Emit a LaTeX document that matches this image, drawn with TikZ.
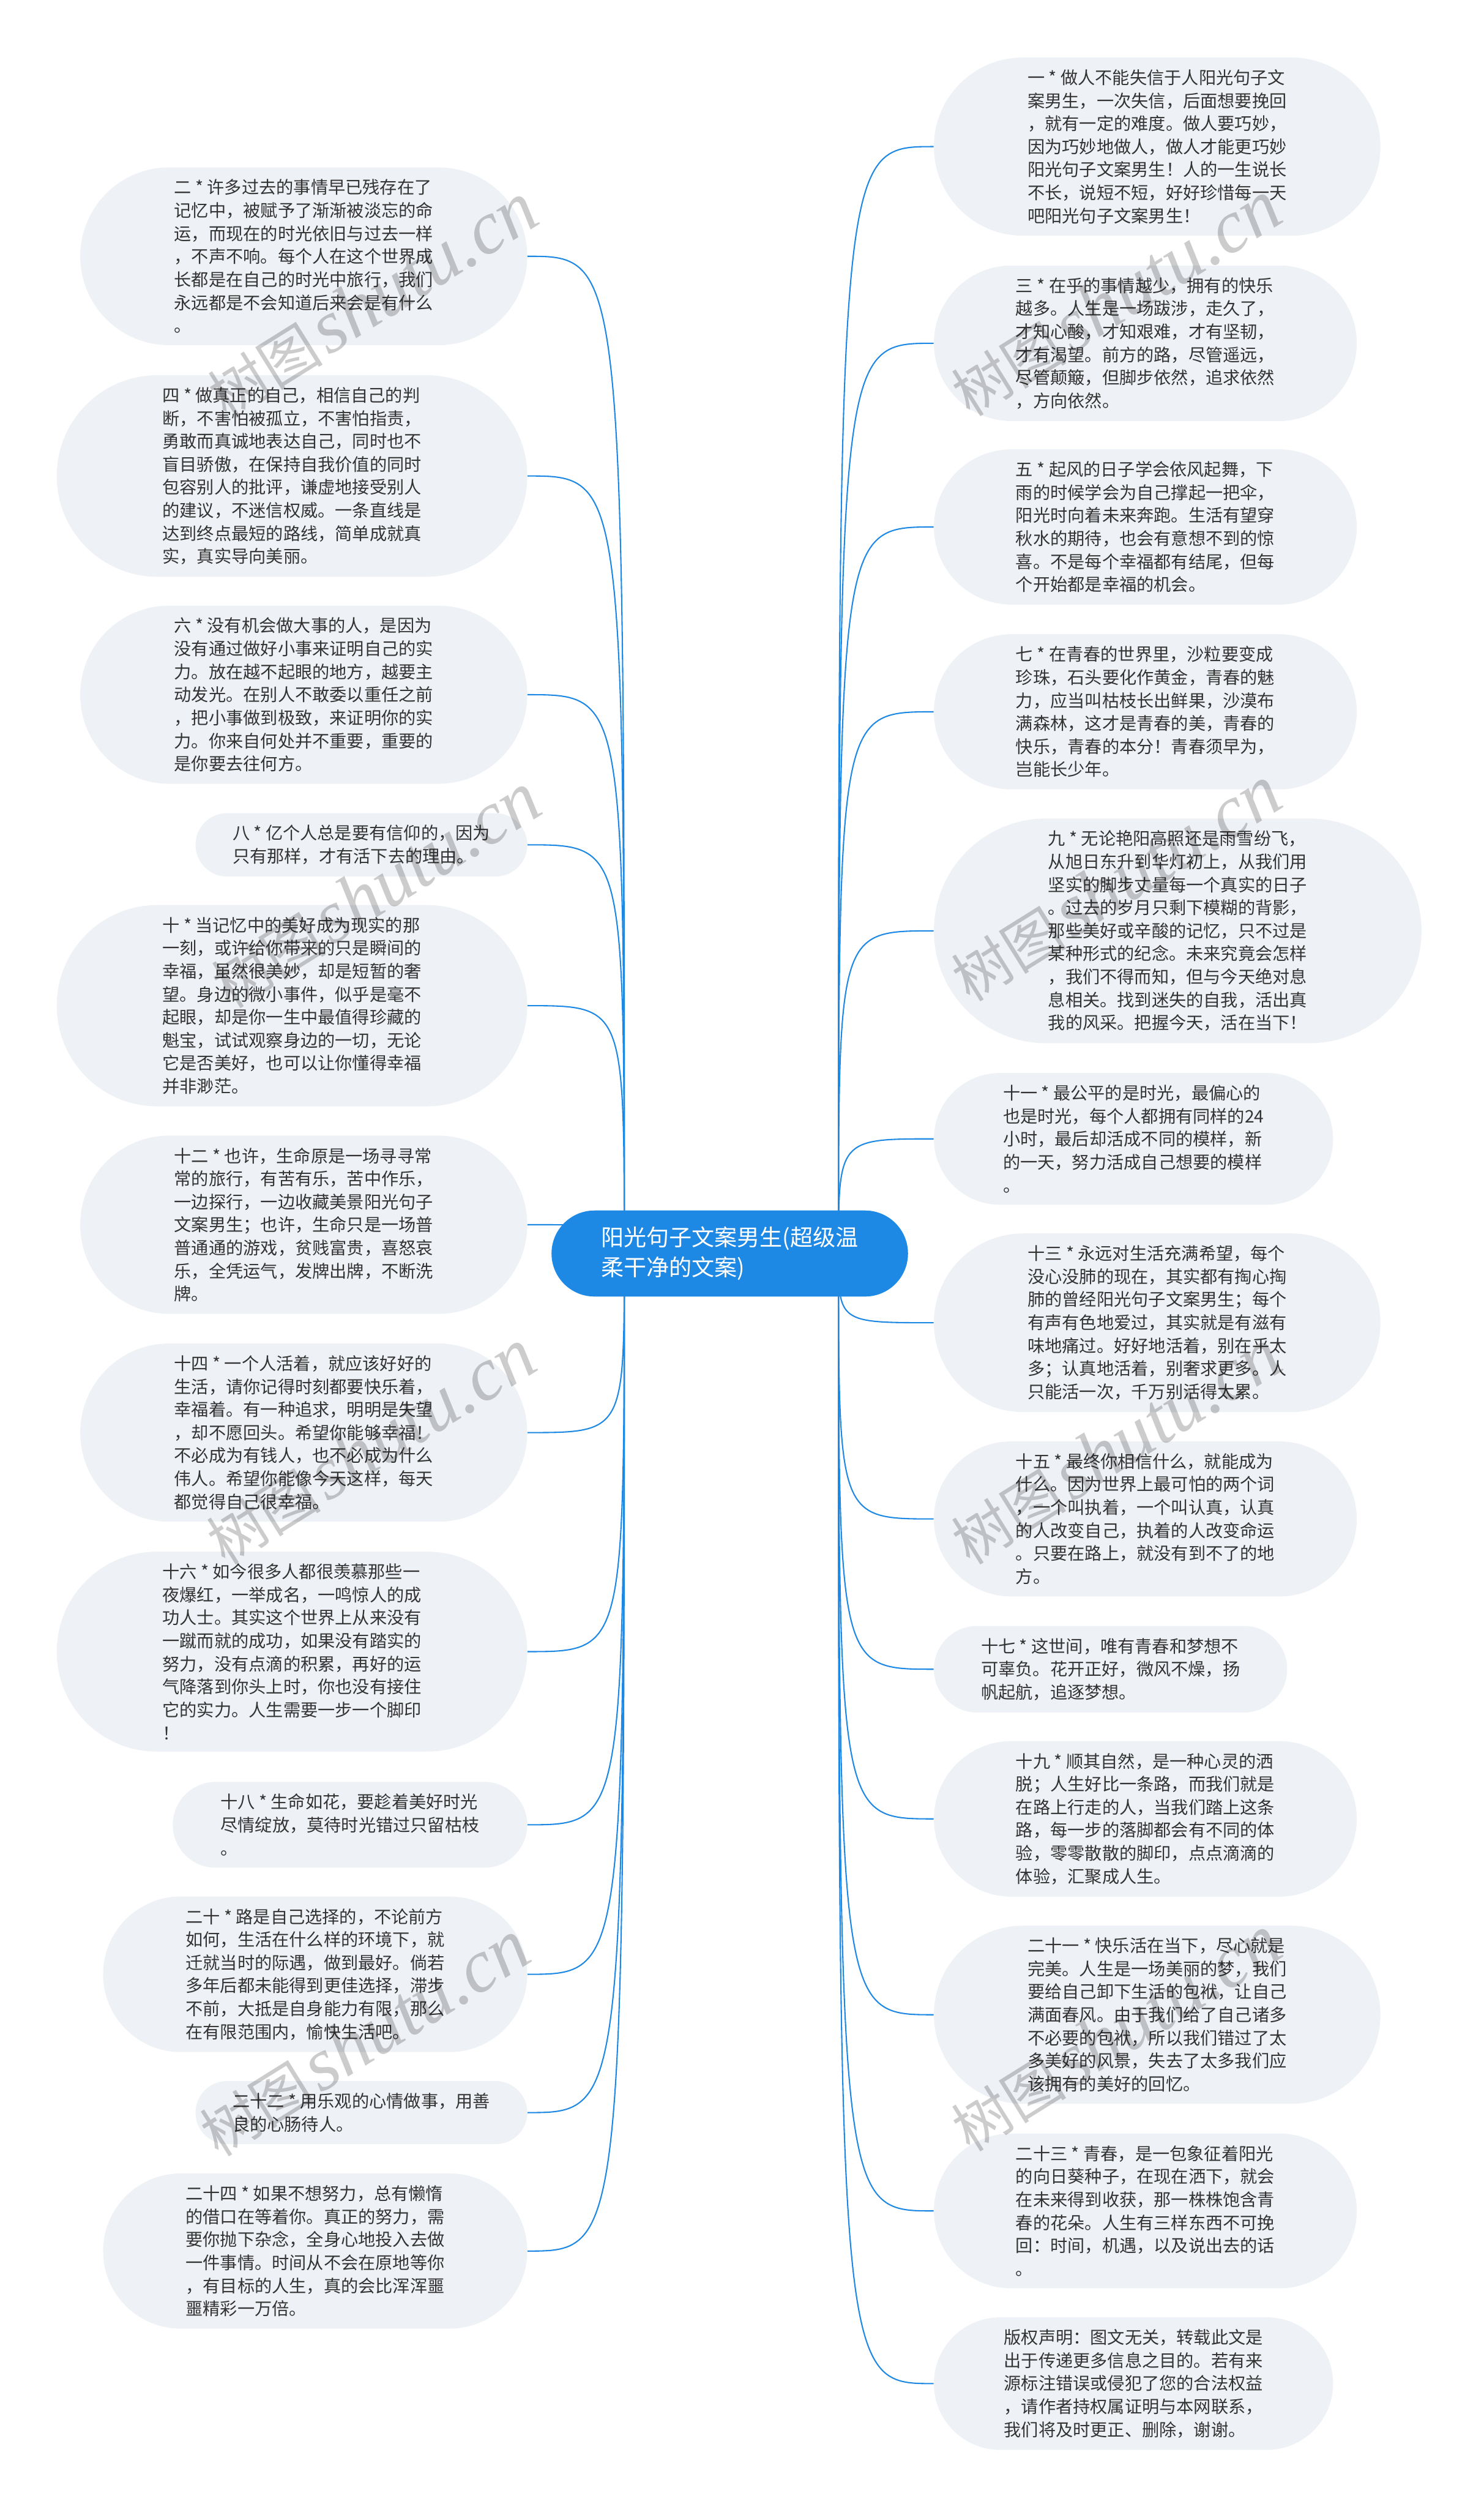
\documentclass[tikz,border=0pt]{standalone}
\usepackage{fontspec}
\newfontfamily\cjk{Noto Sans CJK SC}
\newfontfamily\wmfont{Liberation Serif}
\usetikzlibrary{shapes.misc,backgrounds,calc}
\definecolor{linkblue}{HTML}{1E88E5}
\definecolor{rootblue}{HTML}{1E88E5}
\definecolor{leafgray}{HTML}{EEF1F6}
\definecolor{textgray}{HTML}{333333}
\tikzset{
  leaf/.style={rounded rectangle, fill=leafgray, inner xsep=3pt, inner ysep=7.5pt,
    align=left, text=textgray, font=\cjk\fontsize{10.8}{14.4}\selectfont},
  rootbox/.style={rounded rectangle, fill=rootblue, inner xsep=3pt, inner ysep=10pt,
    minimum width=229, align=left, text=white, font=\cjk\fontsize{14.2}{19}\selectfont},
  link/.style={draw=linkblue, line width=0.8pt},
  wmark/.style={rotate=32, text=black, text opacity=0.2, inner sep=0pt}
}
\begin{document}
\begin{tikzpicture}[x=1pt,y=1pt,yscale=-1,xscale=1]
\useasboundingbox (0,0) rectangle (928,1568);
\begin{pgfonlayer}{background}
\fill[white] (0,0) rectangle (928,1568);
\end{pgfonlayer}

% Root
\node[rootbox] (root) at (456.5,784) {阳光句子文案男生(超级温\\柔干净的文案)};
\coordinate (ls) at ($(root.center)+(-66,0)$);
\coordinate (rs) at ($(root.center)+(68,0)$);

% Left side
\node[leaf, minimum width=285.6, anchor=east] (l1) at (330,160.3) {二 * 许多过去的事情早已残存在了\\记忆中，被赋予了渐渐被淡忘的命\\运，而现在的时光依旧与过去一样\\，不声不响。每个人在这个世界成\\长都是在自己的时光中旅行，我们\\永远都是不会知道后来会是有什么\\。};
\node[leaf, minimum width=300.3, anchor=east] (l2) at (330,297.7) {四 * 做真正的自己，相信自己的判\\断，不害怕被孤立，不害怕指责，\\勇敢而真诚地表达自己，同时也不\\盲目骄傲，在保持自我价值的同时\\包容别人的批评，谦虚地接受别人\\的建议，不迷信权威。一条直线是\\达到终点最短的路线，简单成就真\\实，真实导向美丽。};
\node[leaf, minimum width=285.6, anchor=east] (l3) at (330,434.5) {六 * 没有机会做大事的人，是因为\\没有通过做好小事来证明自己的实\\力。放在越不起眼的地方，越要主\\动发光。在别人不敢委以重任之前\\，把小事做到极致，来证明你的实\\力。你来自何处并不重要，重要的\\是你要去往何方。};
\node[leaf, minimum width=213.5, anchor=east] (l4) at (330,528.4) {八 * 亿个人总是要有信仰的，因为\\只有那样，才有活下去的理由。};
\node[leaf, minimum width=300.3, anchor=east] (l5) at (330,629) {十 * 当记忆中的美好成为现实的那\\一刻，或许给你带来的只是瞬间的\\幸福，虽然很美妙，却是短暂的奢\\望。身边的微小事件，似乎是毫不\\起眼，却是你一生中最值得珍藏的\\魁宝，试试观察身边的一切，无论\\它是否美好，也可以让你懂得幸福\\并非渺茫。};
\node[leaf, minimum width=285.6, anchor=east] (l6) at (330,766) {十二 * 也许，生命原是一场寻寻常\\常的旅行，有苦有乐，苦中作乐，\\一边探行，一边收藏美景阳光句子\\文案男生；也许，生命只是一场普\\普通通的游戏，贫贱富贵，喜怒哀\\乐，全凭运气，发牌出牌，不断洗\\牌。};
\node[leaf, minimum width=285.6, anchor=east] (l7) at (330,896) {十四 * 一个人活着，就应该好好的\\生活，请你记得时刻都要快乐着，\\幸福着。有一种追求，明明是失望\\，却不愿回头。希望你能够幸福！\\不必成为有钱人，也不必成为什么\\伟人。希望你能像今天这样，每天\\都觉得自己很幸福。};
\node[leaf, minimum width=300.3, anchor=east] (l8) at (330,1033) {十六 * 如今很多人都很羡慕那些一\\夜爆红，一举成名，一鸣惊人的成\\功人士。其实这个世界上从来没有\\一蹴而就的成功，如果没有踏实的\\努力，没有点滴的积累，再好的运\\气降落到你头上时，你也没有接住\\它的实力。人生需要一步一个脚印\\！};
\node[leaf, minimum width=227.7, anchor=east] (l9) at (330,1141.3) {十八 * 生命如花，要趁着美好时光\\尽情绽放，莫待时光错过只留枯枝\\。};
\node[leaf, minimum width=271.3, anchor=east] (l10) at (330,1234.8) {二十 * 路是自己选择的，不论前方\\如何，生活在什么样的环境下，就\\迁就当时的际遇，做到最好。倘若\\多年后都未能得到更佳选择，滞步\\不前，大抵是自身能力有限，那么\\在有限范围内，愉快生活吧。};
\node[leaf, minimum width=213.5, anchor=east] (l11) at (330,1321.3) {二十二 * 用乐观的心情做事，用善\\良的心肠待人。};
\node[leaf, minimum width=271.3, anchor=east] (l12) at (330,1407.9) {二十四 * 如果不想努力，总有懒惰\\的借口在等着你。真正的努力，需\\要你抛下杂念，全身心地投入去做\\一件事情。时间从不会在原地等你\\，有目标的人生，真的会比浑浑噩\\噩精彩一万倍。};

% Right side
\node[leaf, minimum width=285.3, anchor=west] (r1) at (584,91.7) {一 * 做人不能失信于人阳光句子文\\案男生，一次失信，后面想要挽回\\，就有一定的难度。做人要巧妙，\\因为巧妙地做人，做人才能更巧妙\\阳光句子文案男生！人的一生说长\\不长，说短不短，好好珍惜每一天\\吧阳光句子文案男生！};
\node[leaf, minimum width=270.5, anchor=west] (r2) at (584,214.7) {三 * 在乎的事情越少，拥有的快乐\\越多。人生是一场跋涉，走久了，\\才知心酸，才知艰难，才有坚韧，\\才有渴望。前方的路，尽管遥远，\\尽管颠簸，但脚步依然，追求依然\\，方向依然。};
\node[leaf, minimum width=270.5, anchor=west] (r3) at (584,329.6) {五 * 起风的日子学会依风起舞，下\\雨的时候学会为自己撑起一把伞，\\阳光时向着未来奔跑。生活有望穿\\秋水的期待，也会有意想不到的惊\\喜。不是每个幸福都有结尾，但每\\个开始都是幸福的机会。};
\node[leaf, minimum width=270.5, anchor=west] (r4) at (584,445.2) {七 * 在青春的世界里，沙粒要变成\\珍珠，石头要化作黄金，青春的魅\\力，应当叫枯枝长出鲜果，沙漠布\\满森林，这才是青春的美，青春的\\快乐，青春的本分！青春须早为，\\岂能长少年。};
\node[leaf, minimum width=311, anchor=west] (r5) at (584,582.2) {九 * 无论艳阳高照还是雨雪纷飞，\\从旭日东升到华灯初上，从我们用\\坚实的脚步丈量每一个真实的日子\\。过去的岁月只剩下模糊的背影，\\那些美好或辛酸的记忆，只不过是\\某种形式的纪念。未来究竟会怎样\\，我们不得而知，但与今天绝对息\\息相关。找到迷失的自我，活出真\\我的风采。把握今天，活在当下！};
\node[leaf, minimum width=255.7, anchor=west] (r6) at (584,712.3) {十一 * 最公平的是时光，最偏心的\\也是时光，每个人都拥有同样的24\\小时，最后却活成不同的模样，新\\的一天，努力活成自己想要的模样\\。};
\node[leaf, minimum width=285.3, anchor=west] (r7) at (584,827.3) {十三 * 永远对生活充满希望，每个\\没心没肺的现在，其实都有掏心掏\\肺的曾经阳光句子文案男生；每个\\有声有色地爱过，其实就是有滋有\\味地痛过。好好地活着，别在乎太\\多；认真地活着，别奢求更多。人\\只能活一次，千万别活得太累。};
\node[leaf, minimum width=270.5, anchor=west] (r8) at (584,950) {十五 * 最终你相信什么，就能成为\\什么。因为世界上最可怕的两个词\\，一个叫执着，一个叫认真，认真\\的人改变自己，执着的人改变命运\\。只要在路上，就没有到不了的地\\方。};
\node[leaf, minimum width=227, anchor=west] (r9) at (584,1044) {十七 * 这世间，唯有青春和梦想不\\可辜负。花开正好，微风不燥，扬\\帆起航，追逐梦想。};
\node[leaf, minimum width=270.5, anchor=west] (r10) at (584,1137.6) {十九 * 顺其自然，是一种心灵的洒\\脱；人生好比一条路，而我们就是\\在路上行走的人，当我们踏上这条\\路，每一步的落脚都会有不同的体\\验，零零散散的脚印，点点滴滴的\\体验，汇聚成人生。};
\node[leaf, minimum width=285.3, anchor=west] (r11) at (584,1260.1) {二十一 * 快乐活在当下，尽心就是\\完美。人生是一场美丽的梦，我们\\要给自己卸下生活的包袱，让自己\\满面春风。由于我们给了自己诸多\\不必要的包袱，所以我们错过了太\\多美好的风景，失去了太多我们应\\该拥有的美好的回忆。};
\node[leaf, minimum width=270.5, anchor=west] (r12) at (584,1382.8) {二十三 * 青春，是一包象征着阳光\\的向日葵种子，在现在洒下，就会\\在未来得到收获，那一株株饱含青\\春的花朵。人生有三样东西不可挽\\回：时间，机遇，以及说出去的话\\。};
\node[leaf, minimum width=255.7, anchor=west] (r13) at (584,1490.8) {版权声明：图文无关，转载此文是\\出于传递更多信息之目的。若有来\\源标注错误或侵犯了您的合法权益\\，请作者持权属证明与本网联系，\\我们将及时更正、删除，谢谢。};

% Links
\begin{pgfonlayer}{background}
\foreach \i in {1,...,12}
  \draw[link] (ls) .. controls (ls |- l\i.east) .. (l\i.east);
\foreach \i in {1,...,13}
  \draw[link] (rs) .. controls (rs |- r\i.west) .. (r\i.west);
\end{pgfonlayer}

% Watermarks
\foreach \x/\y [count=\k] in {233/188, 235/557, 232/905, 228/1275, 698/187, 698/553, 698/905, 698/1272}
  \node[wmark] (wm\k) at (\x,\y) {{\cjk\fontsize{36}{36}\selectfont 树图} {\wmfont\itshape\fontsize{47}{47}\selectfont shutu.cn}};

\end{tikzpicture}
\end{document}
